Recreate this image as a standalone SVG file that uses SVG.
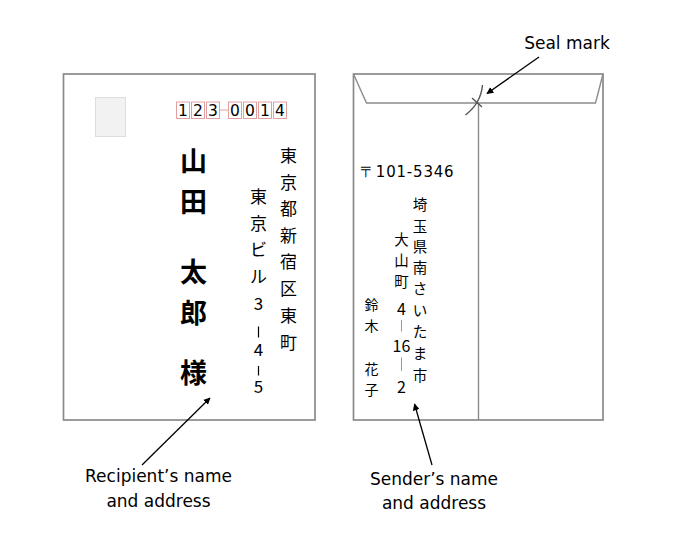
<svg xmlns="http://www.w3.org/2000/svg" width="680" height="555" viewBox="0 0 680 555">
<style>
.env{fill:#fff;stroke:#8a8a8a;stroke-width:1.7}
.ln{fill:none;stroke:#8c8c8c;stroke-width:1.4}
.jp{font-family:"Noto Sans CJK JP","Noto Sans CJK SC",sans-serif;fill:#000;text-anchor:middle;dominant-baseline:central}
.lat{font-family:"DejaVu Sans",sans-serif;fill:#000}
.lbl{font-family:"DejaVu Sans",sans-serif;font-size:17px;fill:#000;text-anchor:middle}
.zb{fill:#fff;stroke:#e0a0a0;stroke-width:1}
.zd{font-family:"DejaVu Sans",sans-serif;font-size:15.5px;fill:#000;text-anchor:middle}
.bar{stroke:#000;stroke-width:1.2}
.bar2{stroke:#9a9a9a;stroke-width:1}
.arr{fill:none;stroke:#000;stroke-width:1.3;marker-end:url(#ah)}
</style>
<defs>
<marker id="ah" viewBox="0 0 10 10" refX="9" refY="5" markerWidth="7" markerHeight="7" orient="auto" markerUnits="userSpaceOnUse">
<path d="M0,0 L10,5 L0,10 z" fill="#000"/>
</marker>
</defs>

<g id="recipient-envelope">
<rect class="env" x="63.5" y="74" width="251.5" height="346"/>
<rect x="95.5" y="97.5" width="30" height="39" fill="#f2f2f2" stroke="#dedede" stroke-width="1"/>
<g id="postal-code">
<line x1="219.5" y1="110" x2="228.5" y2="110" stroke="#e0a0a0" stroke-width="1"/>
<rect class="zb" x="176.5" y="102" width="13" height="16.5"/>
<rect class="zb" x="191.5" y="102" width="13" height="16.5"/>
<rect class="zb" x="206.5" y="102" width="13" height="16.5"/>
<rect class="zb" x="228.5" y="102" width="13" height="16.5"/>
<rect class="zb" x="243.5" y="102" width="13" height="16.5"/>
<rect class="zb" x="258.5" y="102" width="13" height="16.5"/>
<rect class="zb" x="273.5" y="102" width="13" height="16.5"/>
<text class="zd" x="183" y="116">1</text>
<text class="zd" x="198" y="116">2</text>
<text class="zd" x="213" y="116">3</text>
<text class="zd" x="235" y="116">0</text>
<text class="zd" x="250" y="116">0</text>
<text class="zd" x="265" y="116">1</text>
<text class="zd" x="280" y="116">4</text>
</g>
<g id="recipient-name" class="jp" font-size="27" font-weight="bold">
<text x="193.5" y="159">山</text>
<text x="193.5" y="200.5">田</text>
<text x="193.5" y="270">太</text>
<text x="193.5" y="311">郎</text>
<text x="193.5" y="371.5">様</text>
</g>
<g id="recipient-address1" class="jp" font-size="17">
<text x="288.5" y="154.5">東</text>
<text x="288.5" y="181">京</text>
<text x="288.5" y="207.5">都</text>
<text x="288.5" y="234">新</text>
<text x="288.5" y="260.5">宿</text>
<text x="288.5" y="287">区</text>
<text x="288.5" y="314">東</text>
<text x="288.5" y="341">町</text>
</g>
<g id="recipient-address2" class="jp" font-size="17">
<text x="258.5" y="195.5">東</text>
<text x="258.5" y="222">京</text>
<text x="258.5" y="248.5">ビ</text>
<text x="258.5" y="275">ル</text>
<text x="258.5" y="302.5">3</text>
<line class="bar" x1="258.5" y1="326.5" x2="258.5" y2="337.5"/>
<text x="258.5" y="348.5">4</text>
<line class="bar" x1="258.5" y1="366" x2="258.5" y2="375.5"/>
<text x="258.5" y="385">5</text>
</g>
</g>

<g id="sender-envelope">
<rect class="env" x="353.5" y="74" width="249.5" height="346"/>
<polyline class="ln" points="353.5,74 366.5,103 595.5,103 603,74"/>
<line class="ln" x1="478.5" y1="103" x2="478.5" y2="420"/>
<g id="seal">
<path d="M482.5,85 Q481,103 465.5,115" fill="none" stroke="#555" stroke-width="1.4"/>
<path d="M472,98 L482,107" fill="none" stroke="#555" stroke-width="1.4"/>
</g>
<text class="lat" x="360" y="177" font-size="15" letter-spacing="0.8">〒101-5346</text>
<g id="sender-address1" class="jp" font-size="14.5">
<text x="420" y="203.5">埼</text>
<text x="420" y="225">玉</text>
<text x="420" y="245.5">県</text>
<text x="420" y="266">南</text>
<text x="420" y="287.5">さ</text>
<text x="420" y="309">い</text>
<text x="420" y="330.5">た</text>
<text x="420" y="352">ま</text>
<text x="420" y="374">市</text>
</g>
<g id="sender-address2" class="jp" font-size="14.5">
<text x="401.5" y="238.5">大</text>
<text x="401.5" y="259.5">山</text>
<text x="401.5" y="280">町</text>
<text x="401.5" y="307.5" font-size="16">4</text>
<line class="bar2" x1="401.5" y1="320" x2="401.5" y2="331.5"/>
<text x="401.5" y="345" font-size="16">16</text>
<line class="bar2" x1="401.5" y1="357.5" x2="401.5" y2="371"/>
<text x="401.5" y="385.5" font-size="16">2</text>
</g>
<g id="sender-name" class="jp" font-size="14">
<text x="371.5" y="304">鈴</text>
<text x="371.5" y="325">木</text>
<text x="371.5" y="368">花</text>
<text x="371.5" y="389">子</text>
</g>
</g>

<g id="connectors">
<line class="arr" x1="539" y1="57" x2="487" y2="93.5"/>
<line class="arr" x1="142" y1="465" x2="210" y2="398"/>
<line class="arr" x1="432" y1="465" x2="414.5" y2="404"/>
</g>

<g id="label-seal">
<text class="lbl" x="567" y="48.5">Seal mark</text>
</g>
<g id="label-recipient">
<text class="lbl" x="158.5" y="482">Recipient’s name</text>
<text class="lbl" x="158.5" y="507">and address</text>
</g>
<g id="label-sender">
<text class="lbl" x="434" y="485">Sender’s name</text>
<text class="lbl" x="434" y="508.5">and address</text>
</g>
</svg>
